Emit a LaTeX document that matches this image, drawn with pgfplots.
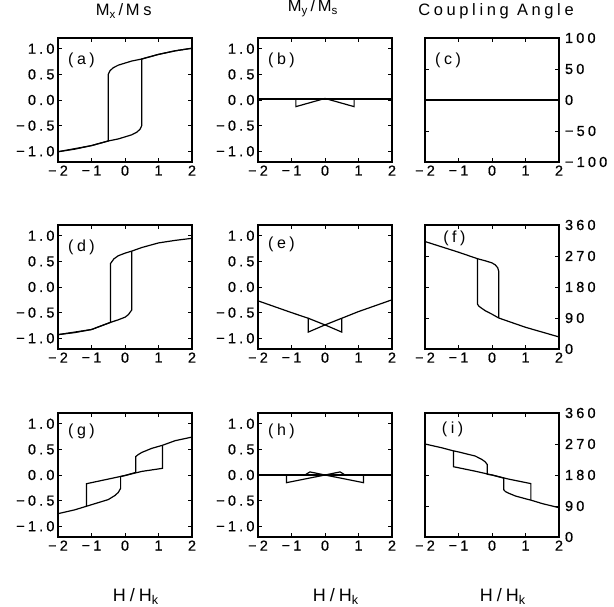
\documentclass[border=0pt]{standalone}
\usepackage{fontspec}
\setmainfont{Liberation Sans}[LetterSpace=22]
\usepackage{pgfplots}
\pgfplotsset{compat=1.18}
\pgfplotsset{
  panel/.style={
    scale only axis, width=134pt, height=124pt,
    anchor=north west,
    xmin=-2, xmax=2,
    xtick={-2,-1,0,1,2}, xticklabels={−2,−1,0,1,2},
    tick align=inside,
    major tick length=4pt,
    axis line style={line width=1.1pt},
    every tick/.style={black, line width=0.9pt},
    tick label style={font=\fontsize{14.5}{14.5}\selectfont\addfontfeatures{FakeBold=0.6}},
    title style={anchor=center, font=\fontsize{16.5}{16.5}\selectfont},
    xlabel style={at={(axis description cs:0.58,-0.48)}, anchor=center, font=\fontsize{18}{18}\selectfont},
  },
  curve/.style={black, line width=1.2pt, mark=none},
  mpanel/.style={panel, ymin=-1.21, ymax=1.21, ytick={-1,-0.5,0,0.5,1},
    yticklabels={−1.0,−0.5,0.0,0.5,1.0}, yticklabel pos=left, xtick pos=both, ytick pos=both},
  apanel/.style={panel, yticklabel pos=right, xtick pos=both, ytick pos=both, yticklabel style={xshift=2.5pt}},
  angpanel/.style={apanel, ymin=0, ymax=360, ytick={0,90,180,270,360}, yticklabels={0,90,180,270,360}},
}
\newcommand{\plab}[3]{\node[anchor=west, font=\fontsize{16}{16}\selectfont] at (rel axis cs:#1,#2) {#3};}
\begin{document}
\begin{tikzpicture}
\useasboundingbox (0,0) rectangle (614pt,607pt);
% ---------- row 1 ----------
\begin{axis}[mpanel, at={(58pt,569pt)}, title={M\textsubscript{x}\,/\,Ms}, title style={at={(axis description cs:0.49,1.17)}}]
\addplot[curve] coordinates {(2,1.01)(1.5,0.96)(1,0.89)(0.5,0.80)(0.2,0.76)(0,0.72)(-0.2,0.68)(-0.35,0.63)(-0.45,0.57)(-0.5,0.50)(-0.5,-0.80)(-1,-0.89)(-1.5,-0.95)(-2,-1.01)};
\addplot[curve] coordinates {(-2,-1.01)(-1.5,-0.96)(-1,-0.89)(-0.5,-0.80)(-0.2,-0.76)(0,-0.72)(0.2,-0.68)(0.35,-0.63)(0.45,-0.57)(0.5,-0.50)(0.5,0.80)(1,0.89)(1.5,0.96)(2,1.01)};
\plab{0.05}{0.82}{(a)}
\end{axis}
\begin{axis}[mpanel, at={(258pt,569pt)}, title={M\textsubscript{y}\,/\,M\textsubscript{s}}, title style={at={(axis description cs:0.41,1.19)}}]
\addplot[curve] coordinates {(-2,0.02)(2,0.02)};
\addplot[curve] coordinates {(-0.87,0.02)(-0.87,-0.13)(0,0.03)(0.87,-0.13)(0.87,0.02)};
\plab{0.05}{0.82}{(b)}
\end{axis}
\begin{axis}[apanel, at={(425pt,569pt)}, ymin=-100, ymax=100, ytick={-100,-50,0,50,100},
  yticklabels={−100,−50,0,50,100}, title={Coupling Angle}, title style={at={(axis description cs:0.53,1.17)}}]
\addplot[curve] coordinates {(-2,0)(2,0)};
\plab{0.05}{0.82}{(c)}
\end{axis}
% ---------- row 2 ----------
\begin{axis}[mpanel, at={(58pt,382pt)}]
\addplot[curve] coordinates {(2,0.95)(1.5,0.91)(1,0.86)(0.5,0.77)(0.2,0.70)(0,0.66)(-0.2,0.61)(-0.33,0.55)(-0.43,0.46)(-0.43,-0.69)(-1,-0.83)(-1.5,-0.89)(-2,-0.93)};
\addplot[curve] coordinates {(-2,-0.93)(-1,-0.83)(-0.43,-0.69)(-0.2,-0.64)(0,-0.59)(0.1,-0.54)(0.2,-0.45)(0.2,0.70)};
\plab{0.05}{0.82}{(d)}
\end{axis}
\begin{axis}[mpanel, at={(258pt,382pt)}]
\addplot[curve] coordinates {(2,-0.25)(1,-0.48)(0.5,-0.61)(0,-0.74)(-0.5,-0.88)(-0.5,-0.61)(-1,-0.50)(-2,-0.27)};
\addplot[curve] coordinates {(-0.5,-0.61)(0,-0.74)(0.5,-0.88)(0.5,-0.61)};
\plab{0.05}{0.84}{(e)}
\end{axis}
\begin{axis}[angpanel, at={(425pt,382pt)}]
\addplot[curve] coordinates {(2,35)(1,63)(0.2,90)(0,101)(-0.2,111)(-0.32,119)(-0.4,125)(-0.43,130)(-0.43,262)(-1,281)(-2,312)};
\addplot[curve] coordinates {(-0.43,262)(-0.2,256)(0,250)(0.1,244)(0.17,236)(0.2,226)(0.2,90)};
\plab{0.11}{0.89}{(f)}
\end{axis}
% ---------- row 3 ----------
\begin{axis}[mpanel, at={(58pt,194pt)}, xlabel={H/H\textsubscript{k}}]
\addplot[curve] coordinates {(2,0.74)(1.5,0.67)(1.12,0.58)(0.8,0.52)(0.5,0.44)(0.4,0.40)(0.32,0.36)(0.32,0.05)(0,-0.01)(-0.5,-0.08)(-1.15,-0.17)(-1.15,-0.61)(-1.5,-0.68)(-2,-0.755)};
\addplot[curve] coordinates {(-1.15,-0.61)(-1,-0.58)(-0.5,-0.48)(-0.3,-0.40)(-0.2,-0.34)(-0.13,-0.26)(-0.13,-0.03)(0,-0.01)(0.5,0.07)(1.12,0.13)(1.12,0.58)};
\plab{0.05}{0.85}{(g)}
\end{axis}
\begin{axis}[mpanel, at={(258pt,194pt)}, xlabel={H/H\textsubscript{k}}]
\addplot[curve] coordinates {(-2,0)(2,0)};
\addplot[curve] coordinates {(-1.15,0)(-1.15,-0.15)(0,0)(0.45,0.06)(0.6,0)};
\addplot[curve] coordinates {(1.15,0)(1.15,-0.15)(0,0)(-0.45,0.06)(-0.6,0)};
\plab{0.05}{0.85}{(h)}
\end{axis}
\begin{axis}[angpanel, at={(425pt,194pt)}, xlabel={H/H\textsubscript{k}}]
\addplot[curve] coordinates {(2,85)(1.5,97)(1.16,107)(1.0,111)(0.7,119)(0.5,127)(0.4,132)(0.35,137)(0.35,171)(0,180)(-0.5,191)(-1.15,204)(-1.15,250)(-1.5,259)(-2,270)};
\addplot[curve] coordinates {(-1.15,250)(-1,247)(-0.5,235)(-0.3,225)(-0.2,218)(-0.14,210)(-0.14,182)(0,180)(0.5,168)(1.16,155)(1.16,107)};
\plab{0.1}{0.87}{(i)}
\end{axis}
\end{tikzpicture}
\end{document}
